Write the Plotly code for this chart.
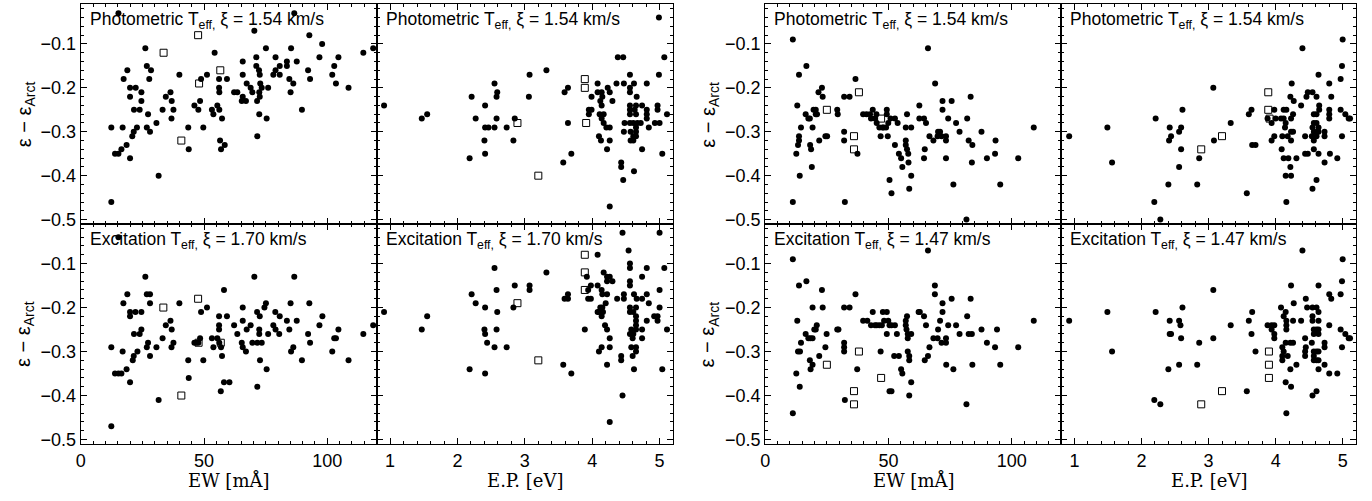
import plotly.graph_objects as go

# ---------------- data ----------------
ew_ticks = [0, 50, 100]
ep_ticks = [1, 2, 3, 4, 5]
eps_ticks = [-0.5, -0.4, -0.3, -0.2, -0.1]
eps_ticktext = ["\u22120.5", "\u22120.4", "\u22120.3", "\u22120.2", "\u22120.1"]

# Panel 1: left group, photometric Teff, xi = 1.54, vs EW
p1_ew = [15.3, 86.6, 70.4, 92.7, 97.9, 114.6, 118.6, 26.2, 54.3, 65.7,
         75.1, 85.3, 96.8, 104.5, 79.0, 71.2, 87.6, 83.6, 83.6, 80.7,
         71.2, 92.2, 102.8, 79.0, 72.3, 72.6, 78.1, 80.7, 65.7, 93.0,
         84.6, 86.2, 85.1, 103.5, 102.0, 108.6, 76.0, 73.4, 72.8, 68.9,
         69.6, 72.4, 72.6, 71.5, 67.3, 65.7, 65.3, 67.0, 62.2, 63.5,
         89.7, 72.4, 75.4, 71.6, 58.4, 56.5, 56.9, 57.3, 56.2, 55.4,
         56.1, 56.2, 56.1, 59.3, 53.2, 53.8, 51.2, 49.7, 48.8, 48.4,
         47.7, 46.1, 43.6, 43.8, 40.0, 37.6, 36.9, 36.4, 34.5, 36.8,
         33.2, 31.6, 30.7, 28.5, 27.8, 26.8, 27.3, 26.8, 28.1, 23.9,
         24.6, 24.6, 22.3, 21.6, 22.8, 21.5, 20.9, 20.0, 20.0, 20.0,
         18.9, 17.4, 17.0, 16.5, 18.6, 15.3, 13.9, 12.4, 12.4]
p1_eps = [-0.03, -0.03, -0.07, -0.08, -0.10, -0.12, -0.11, -0.11, -0.12, -0.14,
          -0.11, -0.11, -0.13, -0.13, -0.13, -0.13, -0.14, -0.14, -0.15, -0.15,
          -0.15, -0.16, -0.15, -0.16, -0.16, -0.17, -0.17, -0.17, -0.17, -0.18,
          -0.18, -0.19, -0.21, -0.19, -0.17, -0.20, -0.20, -0.20, -0.19, -0.20,
          -0.21, -0.21, -0.22, -0.23, -0.19, -0.22, -0.23, -0.23, -0.21, -0.21,
          -0.25, -0.26, -0.27, -0.31, -0.33, -0.32, -0.34, -0.27, -0.25, -0.24,
          -0.20, -0.21, -0.18, -0.18, -0.25, -0.26, -0.17, -0.29, -0.18, -0.23,
          -0.25, -0.24, -0.29, -0.34, -0.17, -0.25, -0.23, -0.21, -0.22, -0.27,
          -0.25, -0.40, -0.28, -0.16, -0.18, -0.15, -0.26, -0.29, -0.30, -0.25,
          -0.21, -0.23, -0.20, -0.25, -0.29, -0.30, -0.31, -0.20, -0.22, -0.36,
          -0.16, -0.18, -0.29, -0.34, -0.33, -0.35, -0.35, -0.29, -0.46]
p1_sq_ew = [47.6, 33.6, 56.6, 48.0, 40.8]
p1_sq_eps = [-0.08, -0.12, -0.16, -0.19, -0.32]

# Panel 2: left group, photometric, vs E.P.
p2_ep = [4.99, 0.91, 1.47, 1.55, 2.21, 2.18, 2.27, 2.41, 2.41, 2.46,
         2.40, 2.41, 2.55, 2.59, 2.58, 2.58, 2.55, 2.73, 2.83, 2.85,
         3.07, 3.06, 3.32, 3.57, 3.69, 3.59, 3.64, 3.64, 4.38, 4.46,
         4.08, 4.23, 3.99, 4.08, 4.14, 4.15, 4.12, 4.14, 4.26, 4.30,
         3.95, 3.99, 3.95, 4.11, 4.17, 4.14, 4.17, 4.21, 4.26, 4.10,
         4.13, 4.26, 4.22, 4.26, 4.36, 4.47, 4.56, 4.56, 4.56, 4.62,
         4.66, 4.81, 4.99, 5.07, 4.56, 4.65, 4.74, 4.56, 4.63, 4.65,
         4.56, 4.81, 4.81, 4.81, 4.97, 4.97, 5.11, 4.48, 4.56, 4.61,
         4.67, 4.93, 5.00, 4.72, 4.84, 4.65, 4.65, 4.65, 4.47, 4.57,
         4.61, 4.57, 4.61, 4.74, 5.04, 4.43, 4.43, 4.62, 4.46]
p2_eps = [-0.04, -0.24, -0.27, -0.26, -0.22, -0.36, -0.27, -0.24, -0.29, -0.29,
          -0.32, -0.35, -0.19, -0.21, -0.22, -0.27, -0.29, -0.29, -0.32, -0.27,
          -0.17, -0.22, -0.16, -0.37, -0.35, -0.21, -0.20, -0.28, -0.13, -0.13,
          -0.19, -0.20, -0.22, -0.21, -0.21, -0.22, -0.23, -0.24, -0.21, -0.23,
          -0.25, -0.25, -0.26, -0.26, -0.26, -0.27, -0.28, -0.29, -0.29, -0.31,
          -0.32, -0.32, -0.34, -0.47, -0.19, -0.19, -0.17, -0.20, -0.21, -0.19,
          -0.22, -0.19, -0.17, -0.13, -0.24, -0.24, -0.24, -0.25, -0.25, -0.26,
          -0.26, -0.25, -0.26, -0.27, -0.24, -0.25, -0.26, -0.28, -0.28, -0.28,
          -0.28, -0.28, -0.28, -0.28, -0.29, -0.29, -0.30, -0.31, -0.30, -0.30,
          -0.31, -0.32, -0.32, -0.34, -0.35, -0.37, -0.38, -0.39, -0.41]
p2_sq_ep = [3.89, 3.89, 2.89, 3.91, 3.20]
p2_sq_eps = [-0.18, -0.20, -0.28, -0.28, -0.40]

# Panel 3: left group, excitation Teff, xi = 1.70, vs EW
p3_ew = [15.3, 12.4, 12.4, 13.9, 15.3, 16.5, 17.3, 17.0, 18.9, 18.6,
         20.0, 20.0, 20.0, 21.1, 21.5, 21.6, 22.2, 23.0, 23.9, 24.6,
         24.6, 26.2, 26.8, 28.1, 26.8, 27.3, 28.1, 28.1, 30.7, 31.6,
         33.2, 34.5, 36.4, 36.9, 37.6, 36.8, 40.0, 43.6, 43.8, 46.1,
         46.9, 47.7, 48.8, 48.4, 49.7, 51.2, 53.2, 53.8, 55.4, 56.1,
         56.1, 56.1, 56.2, 56.9, 57.3, 56.8, 58.1, 58.1, 60.3, 59.3,
         62.2, 63.5, 65.7, 65.7, 65.3, 65.7, 67.0, 67.3, 68.9, 69.6,
         70.4, 71.5, 72.6, 71.6, 72.4, 72.4, 71.6, 73.4, 72.7, 74.5,
         75.1, 75.4, 76.0, 78.9, 79.0, 78.1, 80.7, 80.5, 83.6, 84.6,
         85.1, 85.3, 86.2, 86.6, 87.6, 89.7, 92.2, 93.0, 92.7, 96.8,
         98.0, 102.0, 102.8, 103.5, 104.5, 108.6, 114.6, 118.6]
p3_eps = [-0.04, -0.29, -0.47, -0.35, -0.35, -0.35, -0.19, -0.30, -0.17, -0.34,
          -0.21, -0.22, -0.37, -0.32, -0.31, -0.26, -0.21, -0.30, -0.26, -0.21,
          -0.25, -0.13, -0.17, -0.17, -0.29, -0.28, -0.19, -0.31, -0.29, -0.41,
          -0.27, -0.24, -0.23, -0.25, -0.28, -0.29, -0.19, -0.32, -0.36, -0.28,
          -0.28, -0.28, -0.21, -0.27, -0.32, -0.20, -0.27, -0.29, -0.27, -0.22,
          -0.24, -0.25, -0.28, -0.29, -0.31, -0.39, -0.16, -0.37, -0.37, -0.22,
          -0.24, -0.26, -0.20, -0.23, -0.28, -0.29, -0.30, -0.25, -0.24, -0.28,
          -0.13, -0.21, -0.22, -0.38, -0.25, -0.26, -0.28, -0.28, -0.32, -0.20,
          -0.19, -0.34, -0.26, -0.21, -0.25, -0.24, -0.22, -0.26, -0.23, -0.25,
          -0.19, -0.30, -0.29, -0.13, -0.23, -0.32, -0.26, -0.28, -0.19, -0.24,
          -0.22, -0.30, -0.27, -0.27, -0.25, -0.32, -0.26, -0.24]
p3_sq_ew = [33.5, 47.6, 47.8, 56.8, 40.8]
p3_sq_eps = [-0.20, -0.18, -0.28, -0.28, -0.40]

# Panel 4: left group, excitation, vs E.P.
p4_ep = [4.45, 5.00, 4.54, 0.91, 1.47, 1.55, 2.21, 2.27, 2.18, 2.41,
         2.40, 2.41, 2.44, 2.41, 2.55, 2.58, 2.59, 2.58, 2.55, 2.73,
         2.83, 2.85, 3.07, 3.07, 3.32, 3.57, 3.69, 3.59, 3.64, 3.64,
         3.89, 4.08, 3.92, 3.94, 3.98, 3.94, 3.98, 4.08, 4.14, 4.15,
         4.17, 4.22, 4.26, 4.22, 4.30, 4.22, 4.20, 4.08, 4.12, 4.15,
         4.10, 4.16, 4.14, 4.19, 4.22, 4.26, 4.14, 4.10, 4.26, 4.22,
         4.26, 4.37, 4.47, 4.47, 4.45, 4.43, 4.43, 4.56, 4.56, 4.56,
         4.56, 4.62, 4.66, 4.56, 4.56, 4.65, 4.61, 4.65, 4.65, 4.65,
         4.65, 4.58, 4.61, 4.56, 4.60, 4.58, 4.65, 4.65, 4.60, 4.62,
         4.74, 4.74, 4.74, 4.74, 4.81, 4.81, 4.84, 4.81, 4.92, 4.97,
         4.97, 5.00, 5.00, 5.07, 5.11, 5.04]
p4_eps = [-0.03, -0.03, -0.07, -0.21, -0.25, -0.22, -0.17, -0.19, -0.34, -0.20,
          -0.25, -0.26, -0.28, -0.35, -0.11, -0.16, -0.21, -0.25, -0.29, -0.29,
          -0.20, -0.15, -0.15, -0.16, -0.12, -0.33, -0.35, -0.18, -0.17, -0.18,
          -0.25, -0.08, -0.13, -0.16, -0.15, -0.18, -0.18, -0.15, -0.16, -0.17,
          -0.12, -0.13, -0.13, -0.14, -0.14, -0.17, -0.19, -0.21, -0.20, -0.20,
          -0.21, -0.21, -0.22, -0.24, -0.25, -0.27, -0.29, -0.30, -0.29, -0.33,
          -0.46, -0.18, -0.17, -0.18, -0.40, -0.31, -0.32, -0.10, -0.11, -0.14,
          -0.15, -0.17, -0.18, -0.20, -0.21, -0.20, -0.21, -0.22, -0.23, -0.24,
          -0.25, -0.25, -0.26, -0.26, -0.27, -0.29, -0.29, -0.30, -0.31, -0.34,
          -0.13, -0.18, -0.25, -0.27, -0.11, -0.17, -0.19, -0.23, -0.22, -0.22,
          -0.23, -0.16, -0.20, -0.11, -0.25, -0.34]
p4_sq_ep = [3.89, 3.89, 3.89, 2.89, 3.20]
p4_sq_eps = [-0.08, -0.12, -0.16, -0.19, -0.32]

# Panel 5: right group, photometric Teff, xi = 1.54, vs EW
p5_ew = [11.2, 16.7, 13.7, 13.0, 14.5, 13.7, 13.7, 13.3, 12.6, 14.0,
         11.2, 16.4, 17.5, 18.1, 18.2, 18.6, 19.2, 18.9, 19.6, 20.5,
         21.0, 20.5, 21.6, 23.0, 23.3, 21.9, 24.4, 25.1, 29.2, 29.4,
         32.0, 34.2, 32.0, 32.0, 32.3, 36.6, 37.4, 39.7, 41.1, 42.5,
         43.6, 44.5, 45.1, 42.9, 45.2, 46.3, 47.5, 48.0, 46.8, 49.3,
         49.9, 49.0, 49.3, 49.7, 50.4, 51.2, 50.8, 52.6, 52.6, 53.7,
         54.2, 55.1, 55.6, 57.0, 57.0, 57.5, 58.0, 57.5, 57.0, 58.1,
         58.4, 59.2, 59.2, 62.5, 62.5, 64.4, 65.2, 64.7, 64.4, 66.0,
         66.6, 68.2, 68.9, 70.1, 70.9, 71.5, 69.9, 71.9, 71.9, 73.3,
         73.3, 73.3, 74.2, 75.6, 76.3, 77.4, 78.8, 81.9, 82.5, 83.3,
         84.0, 83.8, 81.6, 87.7, 89.9, 93.4, 93.2, 95.3, 102.6, 108.9]
p5_eps = [-0.09, -0.15, -0.17, -0.24, -0.29, -0.31, -0.32, -0.33, -0.35, -0.40,
          -0.46, -0.26, -0.27, -0.27, -0.33, -0.34, -0.29, -0.38, -0.25, -0.25,
          -0.26, -0.26, -0.21, -0.20, -0.22, -0.32, -0.31, -0.31, -0.25, -0.26,
          -0.22, -0.22, -0.30, -0.32, -0.46, -0.18, -0.35, -0.26, -0.26, -0.26,
          -0.25, -0.27, -0.26, -0.27, -0.28, -0.29, -0.29, -0.29, -0.31, -0.25,
          -0.28, -0.29, -0.26, -0.31, -0.41, -0.44, -0.27, -0.27, -0.33, -0.28,
          -0.35, -0.36, -0.38, -0.32, -0.33, -0.34, -0.35, -0.26, -0.29, -0.37,
          -0.43, -0.40, -0.29, -0.24, -0.27, -0.27, -0.28, -0.34, -0.36, -0.11,
          -0.31, -0.32, -0.19, -0.30, -0.30, -0.31, -0.31, -0.25, -0.23, -0.31,
          -0.32, -0.36, -0.27, -0.23, -0.42, -0.28, -0.30, -0.27, -0.32, -0.22,
          -0.33, -0.37, -0.50, -0.30, -0.36, -0.32, -0.35, -0.42, -0.36, -0.29]
p5_sq_ew = [25.0, 38.0, 36.0, 36.0, 47.0]
p5_sq_eps = [-0.25, -0.21, -0.31, -0.34, -0.27]

# Panel 6: right group, photometric, vs E.P.
p6_ep = [0.92, 1.49, 1.56, 2.21, 2.19, 2.28, 2.40, 2.42, 2.44, 2.41,
         2.56, 2.59, 2.61, 2.59, 2.56, 2.83, 2.86, 3.07, 3.08, 3.33,
         3.57, 3.60, 3.64, 3.65, 3.70, 3.88, 3.94, 3.98, 4.00, 3.98,
         3.94, 4.08, 4.12, 4.12, 4.16, 4.23, 4.26, 4.22, 4.24, 4.27,
         4.14, 4.15, 4.10, 4.18, 4.23, 4.23, 4.26, 4.09, 4.12, 4.19,
         4.31, 4.22, 4.15, 4.23, 4.16, 4.38, 4.40, 4.46, 4.48, 4.44,
         4.44, 4.48, 4.55, 4.61, 4.64, 4.65, 4.65, 4.57, 4.61, 4.57,
         4.61, 4.55, 4.64, 4.57, 4.62, 4.54, 4.61, 4.57, 4.64, 4.73,
         4.73, 4.57, 4.64, 4.61, 4.55, 4.73, 4.80, 4.83, 4.80, 4.80,
         4.80, 4.81, 4.92, 4.97, 4.99, 5.00, 4.97, 4.99, 5.04, 5.09,
         5.11]
p6_eps = [-0.31, -0.29, -0.37, -0.27, -0.46, -0.50, -0.42, -0.29, -0.31, -0.32,
          -0.30, -0.29, -0.25, -0.34, -0.38, -0.42, -0.36, -0.20, -0.32, -0.28,
          -0.44, -0.26, -0.25, -0.33, -0.33, -0.27, -0.28, -0.25, -0.27, -0.31,
          -0.32, -0.27, -0.27, -0.25, -0.25, -0.27, -0.26, -0.22, -0.19, -0.23,
          -0.29, -0.28, -0.31, -0.31, -0.32, -0.30, -0.30, -0.34, -0.36, -0.36,
          -0.36, -0.38, -0.40, -0.40, -0.46, -0.24, -0.11, -0.22, -0.21, -0.31,
          -0.35, -0.35, -0.21, -0.22, -0.17, -0.24, -0.25, -0.26, -0.26, -0.28,
          -0.28, -0.29, -0.29, -0.30, -0.30, -0.31, -0.31, -0.32, -0.30, -0.30,
          -0.31, -0.34, -0.35, -0.41, -0.43, -0.37, -0.19, -0.22, -0.25, -0.26,
          -0.27, -0.35, -0.36, -0.18, -0.15, -0.09, -0.25, -0.31, -0.26, -0.27,
          -0.27]
p6_sq_ep = [3.89, 3.89, 3.91, 3.20, 2.89]
p6_sq_eps = [-0.21, -0.25, -0.27, -0.31, -0.34]

# Panel 7: right group, excitation Teff, xi = 1.47, vs EW
p7_ew = [66.0, 11.2, 11.2, 12.6, 13.0, 13.7, 13.3, 14.1, 14.5, 14.0,
         16.7, 16.4, 17.5, 18.3, 19.2, 18.1, 18.4, 19.2, 19.2, 20.5,
         20.9, 19.9, 21.9, 23.0, 23.3, 24.4, 24.9, 29.2, 29.7, 32.0,
         34.2, 32.0, 32.0, 32.0, 32.3, 36.6, 37.3, 39.7, 41.4, 43.6,
         42.9, 44.5, 45.2, 46.3, 47.3, 47.7, 49.3, 48.2, 49.9, 46.8,
         49.3, 50.4, 51.2, 52.6, 50.4, 51.2, 52.3, 54.2, 53.4, 55.6,
         55.1, 57.0, 57.0, 57.3, 57.5, 57.8, 57.8, 57.8, 58.4, 58.4,
         58.4, 59.2, 59.2, 62.2, 62.7, 64.4, 65.2, 64.7, 66.0, 66.6,
         68.8, 68.8, 68.2, 69.9, 70.1, 70.9, 71.5, 71.9, 71.9, 73.3,
         73.3, 73.4, 74.2, 75.6, 76.3, 77.4, 78.8, 81.9, 81.6, 82.5,
         83.8, 83.3, 84.0, 87.7, 89.9, 93.2, 94.0, 95.3, 102.6, 108.9]
p7_eps = [-0.07, -0.09, -0.44, -0.35, -0.23, -0.15, -0.30, -0.30, -0.28, -0.38,
          -0.14, -0.26, -0.27, -0.27, -0.27, -0.32, -0.34, -0.33, -0.20, -0.25,
          -0.24, -0.25, -0.31, -0.16, -0.20, -0.29, -0.26, -0.25, -0.25, -0.20,
          -0.20, -0.28, -0.29, -0.30, -0.41, -0.17, -0.34, -0.23, -0.23, -0.21,
          -0.24, -0.24, -0.24, -0.24, -0.24, -0.21, -0.21, -0.23, -0.23, -0.30,
          -0.26, -0.24, -0.24, -0.24, -0.39, -0.39, -0.31, -0.31, -0.26, -0.35,
          -0.34, -0.23, -0.24, -0.25, -0.22, -0.26, -0.27, -0.30, -0.31, -0.32,
          -0.40, -0.37, -0.26, -0.21, -0.21, -0.22, -0.24, -0.32, -0.31, -0.29,
          -0.15, -0.17, -0.27, -0.27, -0.25, -0.23, -0.28, -0.21, -0.19, -0.27,
          -0.28, -0.33, -0.24, -0.18, -0.34, -0.24, -0.26, -0.22, -0.42, -0.26,
          -0.26, -0.18, -0.33, -0.25, -0.28, -0.29, -0.25, -0.33, -0.29, -0.23]
p7_sq_ew = [25.0, 38.0, 36.0, 36.0, 47.0]
p7_sq_eps = [-0.33, -0.30, -0.39, -0.42, -0.36]

# Panel 8: right group, excitation, vs E.P.
p8_ep = [4.40, 5.00, 0.92, 1.49, 1.56, 2.21, 2.19, 2.28, 2.40, 2.42,
         2.42, 2.44, 2.56, 2.58, 2.61, 2.59, 2.56, 2.83, 2.86, 3.07,
         3.07, 3.33, 3.57, 3.60, 3.65, 3.64, 3.70, 3.88, 3.94, 3.98,
         3.94, 3.98, 3.98, 4.08, 4.12, 4.15, 4.16, 4.16, 4.16, 4.23,
         4.27, 4.26, 4.15, 4.22, 4.26, 4.10, 4.12, 4.18, 4.10, 4.10,
         4.22, 4.31, 4.15, 4.23, 4.16, 4.38, 4.45, 4.47, 4.44, 4.45,
         4.44, 4.44, 4.55, 4.61, 4.64, 4.55, 4.55, 4.64, 4.57, 4.61,
         4.64, 4.57, 4.64, 4.54, 4.64, 4.57, 4.61, 4.64, 4.57, 4.61,
         4.64, 4.57, 4.64, 4.73, 4.73, 4.73, 4.55, 4.61, 4.80, 4.83,
         4.80, 4.80, 4.92, 4.97, 4.99, 4.97, 4.99, 5.04, 5.09, 5.11]
p8_eps = [-0.07, -0.09, -0.23, -0.21, -0.30, -0.21, -0.41, -0.42, -0.34, -0.23,
          -0.26, -0.26, -0.23, -0.24, -0.20, -0.27, -0.33, -0.33, -0.28, -0.16,
          -0.27, -0.24, -0.39, -0.23, -0.21, -0.26, -0.30, -0.24, -0.24, -0.24,
          -0.25, -0.26, -0.27, -0.20, -0.22, -0.21, -0.23, -0.24, -0.25, -0.15,
          -0.19, -0.23, -0.28, -0.28, -0.28, -0.29, -0.30, -0.31, -0.31, -0.32,
          -0.34, -0.33, -0.37, -0.38, -0.44, -0.23, -0.18, -0.20, -0.27, -0.29,
          -0.30, -0.31, -0.20, -0.20, -0.21, -0.22, -0.23, -0.23, -0.25, -0.25,
          -0.25, -0.26, -0.26, -0.28, -0.15, -0.30, -0.30, -0.30, -0.31, -0.32,
          -0.32, -0.32, -0.34, -0.28, -0.29, -0.33, -0.40, -0.39, -0.17, -0.18,
          -0.24, -0.35, -0.35, -0.17, -0.14, -0.25, -0.29, -0.26, -0.27, -0.27]
p8_sq_ep = [3.90, 3.90, 3.90, 3.20, 2.89]
p8_sq_eps = [-0.30, -0.33, -0.36, -0.39, -0.42]

labels = [
    "Photometric T<sub>eff,</sub> \u03be = 1.54 km/s",
    "Photometric T<sub>eff,</sub> \u03be = 1.54 km/s",
    "Excitation T<sub>eff,</sub> \u03be = 1.70 km/s",
    "Excitation T<sub>eff,</sub> \u03be = 1.70 km/s",
    "Photometric T<sub>eff,</sub> \u03be = 1.54 km/s",
    "Photometric T<sub>eff,</sub> \u03be = 1.54 km/s",
    "Excitation T<sub>eff,</sub> \u03be = 1.47 km/s",
    "Excitation T<sub>eff,</sub> \u03be = 1.47 km/s",
]

# ---------------- layout geometry (pixels) ----------------
W, H = 1372, 501
def fx(p):
    return p / W
def fy(p):
    return 1 - p / H

col_px = {"L_ew": (76, 373), "L_ep": (373, 670.5), "R_ew": (763, 1060), "R_ep": (1060, 1356)}
row_px = {"top": (4.5, 226.7), "bot": (226.7, 449.3)}

panels = [
    ("L_ew", "top", "ew", p1_ew, p1_eps, p1_sq_ew, p1_sq_eps),
    ("L_ep", "top", "ep", p2_ep, p2_eps, p2_sq_ep, p2_sq_eps),
    ("L_ew", "bot", "ew", p3_ew, p3_eps, p3_sq_ew, p3_sq_eps),
    ("L_ep", "bot", "ep", p4_ep, p4_eps, p4_sq_ep, p4_sq_eps),
    ("R_ew", "top", "ew", p5_ew, p5_eps, p5_sq_ew, p5_sq_eps),
    ("R_ep", "top", "ep", p6_ep, p6_eps, p6_sq_ep, p6_sq_eps),
    ("R_ew", "bot", "ew", p7_ew, p7_eps, p7_sq_ew, p7_sq_eps),
    ("R_ep", "bot", "ep", p8_ep, p8_eps, p8_sq_ep, p8_sq_eps),
]

SANS = "Liberation Sans, Arial, Helvetica, sans-serif"
SERIF = "DejaVu Serif, Liberation Serif, serif"

fig = go.Figure()
layout = dict(
    width=W, height=H, margin=dict(l=0, r=0, t=0, b=0),
    paper_bgcolor="white", plot_bgcolor="white", showlegend=False,
    annotations=[],
)

for i, (col, row, kind, xs, ys, sxs, sys_) in enumerate(panels, start=1):
    assert len(xs) == len(ys) and len(sxs) == len(sys_)
    xa = "x" if i == 1 else f"x{i}"
    ya = "y" if i == 1 else f"y{i}"
    xkey = "xaxis" if i == 1 else f"xaxis{i}"
    ykey = "yaxis" if i == 1 else f"yaxis{i}"
    cx0, cx1 = col_px[col]
    ry0, ry1 = row_px[row]

    fig.add_trace(go.Scatter(x=xs, y=ys, xaxis=xa, yaxis=ya, mode="markers",
                             marker=dict(symbol="circle", size=6, color="black",
                                         line=dict(width=0)),
                             hoverinfo="skip"))
    fig.add_trace(go.Scatter(x=sxs, y=sys_, xaxis=xa, yaxis=ya, mode="markers",
                             marker=dict(symbol="square-open", size=7, color="black",
                                         line=dict(width=1, color="black")),
                             hoverinfo="skip"))

    if kind == "ew":
        xr, tv, mdt = [0, 120], ew_ticks, 5
    else:
        xr, tv, mdt = [0.8, 5.2], ep_ticks, 0.2

    common = dict(showline=True, linecolor="black", linewidth=1, mirror="ticks",
                  ticks="inside", ticklen=6, tickwidth=1, tickcolor="black",
                  showgrid=False, zeroline=False,
                  tickfont=dict(family=SANS, size=18, color="black"))
    layout[xkey] = dict(common, domain=[fx(cx0), fx(cx1)], anchor=ya, range=xr,
                        tickvals=tv, ticktext=[str(t) for t in tv],
                        showticklabels=(row == "bot"),
                        minor=dict(ticks="inside", ticklen=3, tickwidth=1, tickcolor="black",
                                   dtick=mdt, tick0=0, showgrid=False))
    layout[ykey] = dict(common, domain=[fy(ry1), fy(ry0)], anchor=xa, range=[-0.51, -0.01],
                        tickvals=eps_ticks, ticktext=eps_ticktext,
                        showticklabels=(kind == "ew"),
                        minor=dict(ticks="inside", ticklen=3, tickwidth=1, tickcolor="black",
                                   dtick=0.02, tick0=0, showgrid=False))

    # panel label
    layout["annotations"].append(dict(
        text=labels[i - 1], xref="paper", yref="paper",
        x=fx(cx0 + 7), y=fy(ry0 + 3), xanchor="left", yanchor="top",
        showarrow=False, font=dict(family=SANS, size=17.5, color="black")))

    # y-axis title for left panels
    if kind == "ew":
        layout["annotations"].append(dict(
            text="\u03b5 \u2212 \u03b5<sub>Arct</sub>", xref="paper", yref="paper",
            x=fx(cx0 - 56), y=fy((ry0 + ry1) / 2), xanchor="center", yanchor="middle",
            textangle=-90, showarrow=False,
            font=dict(family=SANS, size=20, color="black")))
    # x-axis titles for bottom panels
    if row == "bot":
        layout["annotations"].append(dict(
            text="EW [m\u00c5]" if kind == "ew" else "E.P. [eV]",
            xref="paper", yref="paper",
            x=fx((cx0 + cx1) / 2), y=fy(486), xanchor="center", yanchor="middle",
            showarrow=False, font=dict(family=SERIF, size=18, color="black")))

fig.update_layout(**layout)
fig.write_html("out.html")
